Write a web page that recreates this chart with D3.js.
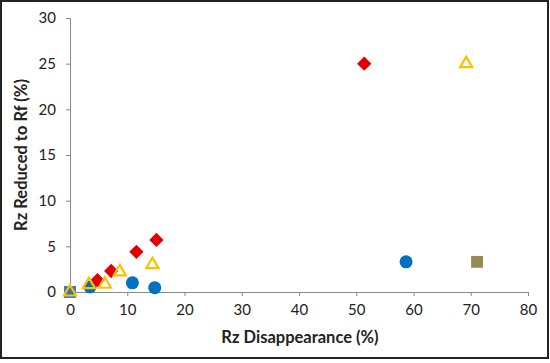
<!DOCTYPE html>
<html><head><meta charset="utf-8">
<script src="https://cdn.jsdelivr.net/npm/d3@7"></script>
<style>body{margin:0;background:#fff}svg{display:block}</style>
</head><body>
<svg id="c" width="550" height="363"></svg>
<script>
const xTicks = [0,10,20,30,40,50,60,70,80];
const yTicks = [0,5,10,15,20,25,30];
const squareTealPts = [[0,0]];
const circlePts = [[3.5,0.55],[10.9,1.0],[14.8,0.47],[58.7,3.3]];
const diamondPts = [[4.8,1.3],[7.2,2.3],[11.6,4.4],[15.1,5.7],[51.4,25]];
const trianglePts = [[0,0],[3.3,0.8],[6.1,0.85],[8.7,2.2],[14.4,3.0],[69.2,25]];
const squareOlivePts = [[71.1,3.3]];

const svg = d3.select("#c");
const x = d3.scaleLinear().domain([0,80]).range([70,528]);
const y = d3.scaleLinear().domain([0,30]).range([292,18]);
const font = "Lato, 'Open Sans', sans-serif";

svg.append("rect").attr("x",1).attr("y",1).attr("width",547).attr("height",357)
  .attr("fill","#fff").attr("stroke","#222").attr("stroke-width",2);

const gx = svg.append("g").attr("transform","translate(0,292)")
  .call(d3.axisBottom(x).tickValues(xTicks).tickSize(4).tickPadding(8));
const gy = svg.append("g").attr("transform","translate(70,0)")
  .call(d3.axisLeft(y).tickValues(yTicks).tickSize(4).tickPadding(10));
[gx,gy].forEach(g=>{
  g.selectAll("path,line").attr("stroke","#898989");
  g.selectAll("text").attr("font-family",font).attr("font-size",15).attr("fill","#222");
});

svg.append("text").attr("x",300).attr("y",343).attr("text-anchor","middle")
  .attr("font-family",font).attr("font-weight","bold").attr("font-size",16.5).attr("fill","#222")
  .text("Rz Disappearance (%)");
svg.append("text").attr("transform","translate(27,155) rotate(-90)").attr("text-anchor","middle")
  .attr("font-family",font).attr("font-weight","bold").attr("font-size",16.5).attr("fill","#222")
  .text("Rz Reduced to Rf (%)");

const sq = d3.symbol().type(d3.symbolSquare).size(140);
svg.append("g").selectAll("path").data(squareTealPts).join("path")
  .attr("d",sq).attr("transform",d=>`translate(${x(d[0])},${y(d[1])})`)
  .attr("fill","#2E75B6");
svg.append("g").selectAll("circle").data(circlePts).join("circle")
  .attr("cx",d=>x(d[0])).attr("cy",d=>y(d[1])).attr("r",6.5).attr("fill","#0070C0");
const dm = d3.symbol().type(d3.symbolDiamond2).size(130);
svg.append("g").selectAll("path").data(diamondPts).join("path")
  .attr("d",dm).attr("transform",d=>`translate(${x(d[0])},${y(d[1])})`)
  .attr("fill","#E00000");
const tr = d3.symbol().type(d3.symbolTriangle2).size(105);
svg.append("g").selectAll("path").data(trianglePts).join("path")
  .attr("d",tr).attr("transform",d=>`translate(${x(d[0])},${y(d[1])})`)
  .attr("fill","none").attr("stroke","#FFC000").attr("stroke-width",2.2);
svg.append("g").selectAll("path").data(squareOlivePts).join("path")
  .attr("d",sq).attr("transform",d=>`translate(${x(d[0])},${y(d[1])})`)
  .attr("fill","#948A54");
</script>
</body></html>
